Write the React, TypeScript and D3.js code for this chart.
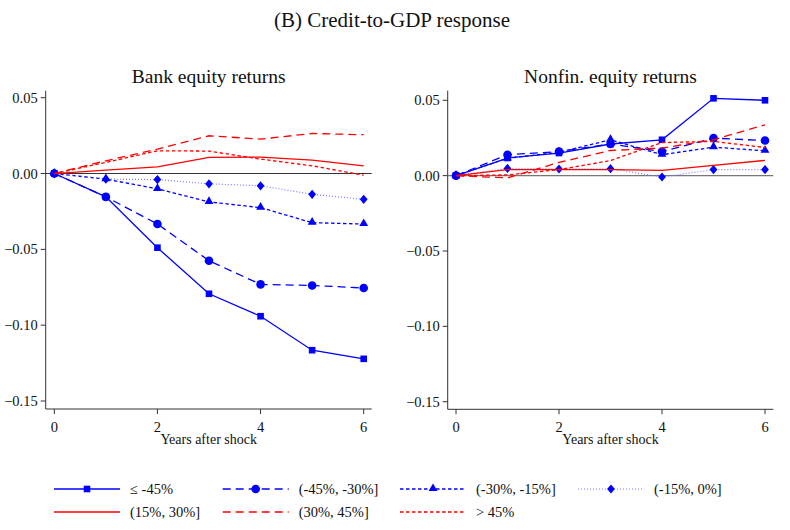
import React from "react";
import * as d3 from "d3";

const years = [0, 1, 2, 3, 4, 5, 6];
const seriesLabels = ["≤ -45%", "(-45%, -30%]", "(-30%, -15%]", "(-15%, 0%]", "(15%, 30%]", "(30%, 45%]", "> 45%"];

const bankLe45 = [0, -0.0154, -0.0489, -0.0793, -0.0941, -0.1165, -0.1222];
const bank45to30 = [0, -0.0154, -0.0333, -0.0575, -0.0731, -0.0738, -0.0755];
const bank30to15 = [0, -0.0037, -0.0101, -0.0187, -0.0225, -0.0324, -0.0333];
const bank15to0 = [0, -0.0037, -0.004, -0.0068, -0.0081, -0.0137, -0.017];
const bank15to30 = [0, 0.0022, 0.0044, 0.0106, 0.0108, 0.0088, 0.0051];
const bank30to45 = [0, 0.0084, 0.0161, 0.0249, 0.0227, 0.0264, 0.0256];
const bankGt45 = [0, 0.0073, 0.015, 0.0148, 0.0095, 0.0051, -0.0011];

const nfLe45 = [0, 0.0117, 0.015, 0.021, 0.0238, 0.0513, 0.05];
const nf45to30 = [0, 0.0139, 0.016, 0.021, 0.016, 0.0249, 0.0233];
const nf30to15 = [0, 0.0115, 0.0155, 0.0238, 0.0139, 0.0189, 0.0165];
const nf15to0 = [0, 0.0048, 0.0044, 0.0046, -0.0009, 0.004, 0.004];
const nf15to30 = [0, 0.004, 0.004, 0.004, 0.0035, 0.0068, 0.0101];
const nf30to45 = [0, -0.0015, 0.0088, 0.0167, 0.0183, 0.0238, 0.0337];
const nfGt45 = [0, 0.0005, 0.004, 0.01, 0.022, 0.0227, 0.0187];

const yTicks = [0.05, 0, -0.05, -0.1, -0.15];
const xTicks = [0, 2, 4, 6];

const BLUE = "#0000ff";
const RED = "#ff0000";

type Style = { color: string; dash: string | null; width: number; marker: string | null };
const styles: Style[] = [
  { color: BLUE, dash: null, width: 1.3, marker: "square" },
  { color: BLUE, dash: "8,5", width: 1.3, marker: "circle" },
  { color: BLUE, dash: "3.5,2.5", width: 1.3, marker: "triangle" },
  { color: "#7b7bff", dash: "1,2", width: 1.2, marker: "diamond" },
  { color: RED, dash: null, width: 1.3, marker: null },
  { color: RED, dash: "8,5", width: 1.3, marker: null },
  { color: RED, dash: "3.5,2.5", width: 1.3, marker: null },
];

const FONT = "'Liberation Serif', 'DejaVu Serif', serif";

function Marker({ type, x, y }: { type: string | null; x: number; y: number }) {
  if (!type) return null;
  if (type === "square") return <rect x={x - 3.3} y={y - 3.3} width={6.6} height={6.6} fill={BLUE} />;
  if (type === "circle") return <circle cx={x} cy={y} r={4.3} fill={BLUE} />;
  if (type === "triangle") {
    const p = d3.symbol().type(d3.symbolTriangle).size(34)();
    return <path d={p as string} transform={`translate(${x},${y - 0.5})`} fill={BLUE} />;
  }
  if (type === "diamond") {
    return <path d={`M${x},${y - 4.6}L${x + 3.9},${y}L${x},${y + 4.6}L${x - 3.9},${y}Z`} fill={BLUE} />;
  }
  return null;
}

type PanelProps = {
  title: string;
  data: number[][];
  axisLeft: number;
  axisRight: number;
  x0: number;
  x6: number;
  yTop: number;
  yBottom: number;
  yAt005: number;
  yAtM015: number;
  zeroColor: string;
};

function Panel(p: PanelProps) {
  const x = d3.scaleLinear().domain([0, 6]).range([p.x0, p.x6]);
  const y = d3.scaleLinear().domain([-0.15, 0.05]).range([p.yAtM015, p.yAt005]);
  const line = d3
    .line<number>()
    .x((_, i) => x(years[i]))
    .y((d) => y(d));
  const fmt = d3.format(".2f");
  const cx = (p.axisLeft + p.axisRight) / 2;
  return (
    <g>
      <text x={cx} y={83} textAnchor="middle" fontSize={19.5} fontFamily={FONT} fill="#111">
        {p.title}
      </text>
      <line x1={p.axisLeft} x2={p.axisLeft} y1={p.yTop} y2={p.yBottom} stroke="#333" strokeWidth={1} />
      <line x1={p.axisLeft} x2={p.axisRight} y1={p.yBottom} y2={p.yBottom} stroke="#333" strokeWidth={1} />
      {yTicks.map((t) => (
        <g key={t}>
          <line x1={p.axisLeft - 5} x2={p.axisLeft} y1={y(t)} y2={y(t)} stroke="#333" />
          <text x={p.axisLeft - 8} y={y(t) + 5} textAnchor="end" fontSize={14.5} fontFamily={FONT} fill="#111">
            {fmt(t).replace("-0.00", "0.00")}
          </text>
        </g>
      ))}
      {xTicks.map((t) => (
        <g key={t}>
          <line x1={x(t)} x2={x(t)} y1={p.yBottom} y2={p.yBottom + 5} stroke="#333" />
          <text x={x(t)} y={p.yBottom + 23} textAnchor="middle" fontSize={14.5} fontFamily={FONT} fill="#111">
            {t}
          </text>
        </g>
      ))}
      <text x={cx} y={p.yBottom + 35} textAnchor="middle" fontSize={14} fontFamily={FONT} fill="#111">
        Years after shock
      </text>
      <line x1={p.axisLeft} x2={p.axisRight} y1={y(0)} y2={y(0)} stroke={p.zeroColor} strokeWidth={1.1} />
      {p.data.map((vals, si) => {
        const s = styles[si];
        return (
          <g key={si}>
            <path
              d={line(vals) as string}
              fill="none"
              stroke={s.color}
              strokeWidth={s.width}
              strokeDasharray={s.dash ?? undefined}
            />
            {vals.map((v, i) => (
              <Marker key={i} type={s.marker} x={x(years[i])} y={y(v)} />
            ))}
          </g>
        );
      })}
    </g>
  );
}

export default function App() {
  const bank = [bankLe45, bank45to30, bank30to15, bank15to0, bank15to30, bank30to45, bankGt45];
  const nonfin = [nfLe45, nf45to30, nf30to15, nf15to0, nf15to30, nf30to45, nfGt45];
  const legendCols = [54, 222.7, 400, 578];
  const legendRows = [489, 512];
  return (
    <svg
      width={790}
      height={530}
      style={{ position: "absolute", left: 0, top: 0, background: "#fff" }}
      viewBox="0 0 790 530"
    >
      <rect width={790} height={530} fill="#fff" />
      <text x={392} y={27} textAnchor="middle" fontSize={21} fontFamily={FONT} fill="#111">
        (B) Credit-to-GDP response
      </text>
      <Panel
        title="Bank equity returns"
        data={bank}
        axisLeft={45.7}
        axisRight={371.7}
        x0={54.3}
        x6={363.7}
        yTop={90.7}
        yBottom={409}
        yAt005={97.7}
        yAtM015={401}
        zeroColor="#333"
      />
      <Panel
        title="Nonfin. equity returns"
        data={nonfin}
        axisLeft={447.7}
        axisRight={773.3}
        x0={456}
        x6={765}
        yTop={90.7}
        yBottom={409.3}
        yAt005={100.3}
        yAtM015={401.7}
        zeroColor="#777"
      />
      {seriesLabels.map((lab, i) => {
        const col = i < 4 ? i : i - 4;
        const row = i < 4 ? 0 : 1;
        const lx = legendCols[col];
        const ly = legendRows[row];
        const s = styles[i];
        return (
          <g key={lab}>
            <line
              x1={lx}
              x2={lx + 66}
              y1={ly}
              y2={ly}
              stroke={s.color}
              strokeWidth={s.width}
              strokeDasharray={s.dash ?? undefined}
            />
            <Marker type={s.marker} x={lx + 33} y={ly} />
            <text x={lx + 76} y={ly + 5} fontSize={14.5} fontFamily={FONT} fill="#111">
              {lab}
            </text>
          </g>
        );
      })}
    </svg>
  );
}
